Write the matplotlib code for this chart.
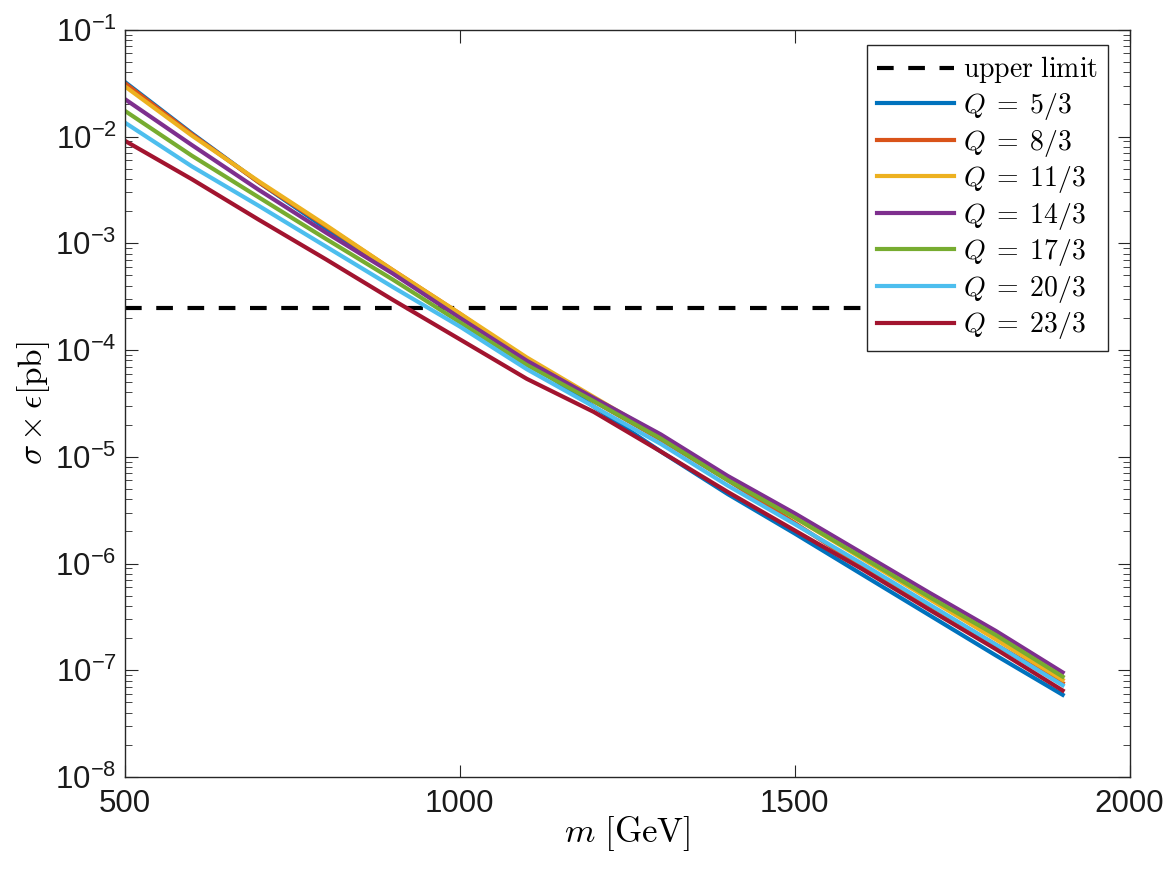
import matplotlib
matplotlib.use('Agg')
import matplotlib.pyplot as plt
from matplotlib.ticker import LogLocator, NullFormatter

plt.rcParams['mathtext.fontset'] = 'cm'
plt.rcParams['font.family'] = ['Liberation Sans', 'DejaVu Sans']

# masses in GeV
m = [500, 600, 700, 800, 900, 1000, 1100, 1200, 1300, 1400, 1500, 1600, 1700, 1800, 1900]

# sigma x eps [pb] for each charge
q5 = [3.24e-2, 1.07e-2, 3.72e-3, 1.38e-3, 5.30e-4, 2.09e-4, 7.94e-5, 2.95e-5, 1.12e-5, 4.47e-6, 1.91e-6, 7.94e-7, 3.31e-7, 1.38e-7, 5.89e-8]
q8 = [3.16e-2, 1.05e-2, 3.72e-3, 1.45e-3, 5.60e-4, 2.19e-4, 7.94e-5, 3.31e-5, 1.45e-5, 6.03e-6, 2.40e-6, 9.33e-7, 4.07e-7, 1.74e-7, 7.59e-8]
q11 = [2.95e-2, 1.02e-2, 3.80e-3, 1.48e-3, 5.60e-4, 2.20e-4, 8.51e-5, 3.63e-5, 1.55e-5, 6.46e-6, 2.69e-6, 1.12e-6, 4.68e-7, 1.95e-7, 8.13e-8]
q14 = [2.24e-2, 8.32e-3, 3.16e-3, 1.26e-3, 5.20e-4, 2.00e-4, 7.94e-5, 3.55e-5, 1.62e-5, 6.61e-6, 2.95e-6, 1.26e-6, 5.37e-7, 2.34e-7, 9.55e-8]
q17 = [1.74e-2, 6.61e-3, 2.69e-3, 1.10e-3, 4.57e-4, 1.82e-4, 7.24e-5, 3.31e-5, 1.48e-5, 6.03e-6, 2.69e-6, 1.15e-6, 4.90e-7, 2.14e-7, 8.71e-8]
q20 = [1.35e-2, 5.25e-3, 2.24e-3, 9.33e-4, 3.89e-4, 1.66e-4, 6.61e-5, 2.95e-5, 1.32e-5, 5.37e-6, 2.34e-6, 1.00e-6, 4.17e-7, 1.74e-7, 7.24e-8]
q23 = [9.12e-3, 3.98e-3, 1.66e-3, 7.08e-4, 2.95e-4, 1.26e-4, 5.37e-5, 2.63e-5, 1.12e-5, 4.68e-6, 2.04e-6, 8.91e-7, 3.72e-7, 1.58e-7, 6.46e-8]

upper_limit = 2.5e-4

series = [q5, q8, q11, q14, q17, q20, q23]
labels = [r'$Q\;=\;5/3$', r'$Q\;=\;8/3$', r'$Q\;=\;11/3$', r'$Q\;=\;14/3$',
          r'$Q\;=\;17/3$', r'$Q\;=\;20/3$', r'$Q\;=\;23/3$']
colors = ['#0072BD', '#D95319', '#EDB120', '#7E2F8E', '#77AC30', '#4DBEEE', '#A2142F']

fig = plt.figure(figsize=(11.67, 8.75), dpi=100)
ax = fig.add_axes([0.107, 0.112, 0.861, 0.854])

ax.plot([m[0], m[-1]], [upper_limit, upper_limit], '--', color='k', lw=3,
        dashes=(4, 3.5), label=r'$\mathrm{upper\ limit}$')
for ys, lab, c in zip(series, labels, colors):
    ax.plot(m, ys, color=c, lw=3, label=lab)

ax.set_yscale('log')
ax.set_xlim(500, 2000)
ax.set_ylim(1e-8, 1e-1)
ax.set_xticks([500, 1000, 1500, 2000])
ax.yaxis.set_major_locator(LogLocator(base=10, numticks=20))
ax.yaxis.set_minor_locator(LogLocator(base=10, subs=range(2, 10), numticks=100))
ax.yaxis.set_minor_formatter(NullFormatter())

axc = '#262626'
for s in ax.spines.values():
    s.set_color(axc)
    s.set_linewidth(1.0)
ax.tick_params(which='both', direction='in', top=True, right=True, color=axc)
ax.tick_params(which='major', length=9, labelsize=22.5, labelcolor='#1a1a1a', pad=6)
ax.tick_params(axis='x', which='major', pad=9)
ax.tick_params(which='minor', length=5)

ax.set_xlabel(r'$m\ [\mathrm{GeV}]$', fontsize=25, labelpad=-4)
ax.set_ylabel(r'$\sigma\times\epsilon[\mathrm{pb}]$', fontsize=24, labelpad=2)

leg = ax.legend(loc='upper right', bbox_to_anchor=(0.978, 0.98), fontsize=20,
                handlelength=2.8, fancybox=False, framealpha=1, edgecolor=axc,
                borderaxespad=0, labelspacing=0.2, handletextpad=0.3, borderpad=0.35)
leg.get_frame().set_linewidth(1.0)

fig.savefig('out.png', dpi=100)
